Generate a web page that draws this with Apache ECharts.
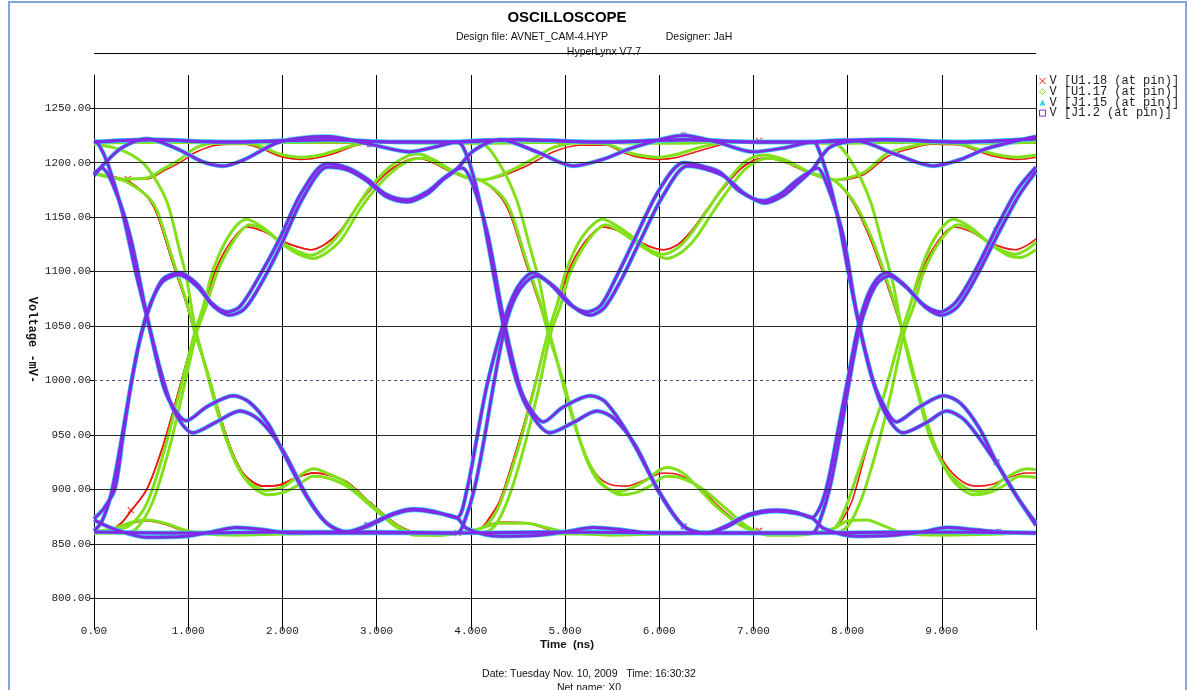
<!DOCTYPE html>
<html>
<head>
<meta charset="utf-8">
<title>Oscilloscope</title>
<script src="https://cdn.jsdelivr.net/npm/echarts@6.0.0/dist/echarts.min.js"></script>
<style>
  html, body { margin: 0; padding: 0; background: #fff; }
  #chart { width: 1189px; height: 690px; }
</style>
</head>
<body>
<div id="chart"></div>
<script>
// tick labels
const xTickLabels = ['0.00', '1.000', '2.000', '3.000', '4.000', '5.000', '6.000', '7.000', '8.000', '9.000', ''];
const yTickValues = [800, 850, 900, 950, 1000, 1050, 1100, 1150, 1200, 1250];
const yTickLabels = ['800.00', '850.00', '900.00', '950.00', '1000.00', '1050.00', '1100.00', '1150.00', '1200.00', '1250.00'];

// ---- V [U1.17 (at pin)]  (green), pieces per bit window 0-4.1, 4.1-7.85, 7.85-10 ns
const u17RiseS1 = [[0,861],[0.2,862],[0.38,867],[0.56,887],[0.74,934],[0.91,990],[1.07,1044],[1.16,1068],[1.27,1103],[1.44,1134],[1.62,1148],[1.8,1140],[1.97,1128],[2.15,1119],[2.3,1115],[2.45,1121],[2.6,1134],[2.78,1158],[2.93,1177],[3.14,1196],[3.35,1207],[3.45,1208],[3.6,1203],[3.78,1194],[3.95,1187],[4.1,1184]];
const u17RiseL1 = [[0,860],[0.3,860],[0.45,864],[0.62,888],[0.8,938],[0.95,992],[1.09,1044],[1.19,1068],[1.31,1100],[1.48,1128],[1.65,1143],[1.83,1137],[2.0,1125],[2.17,1116],[2.33,1112],[2.48,1118],[2.63,1130],[2.8,1154],[2.96,1173],[3.17,1192],[3.38,1203],[3.5,1204],[3.65,1199],[3.82,1191],[3.97,1186],[4.1,1184]];
const u17FallS1 = [[0,1190],[0.3,1184],[0.45,1177],[0.58,1168],[0.67,1156],[0.84,1110],[0.98,1073],[1.07,1044],[1.16,1020],[1.23,1000],[1.34,965],[1.48,930],[1.62,909],[1.83,899],[2.0,902],[2.12,909],[2.33,919],[2.5,914],[2.68,906],[2.93,887],[3.18,869],[3.35,861],[3.6,858],[3.85,860],[4.1,864]];
const u17FallL1 = [[0,1217],[0.2,1214],[0.4,1207],[0.56,1196],[0.77,1165],[0.91,1119],[0.98,1095],[1.07,1050],[1.16,1020],[1.25,990],[1.36,957],[1.5,925],[1.65,905],[1.85,895],[2.0,897],[2.15,903],[2.33,912],[2.5,910],[2.7,902],[2.95,884],[3.2,866],[3.4,858],[3.7,858],[4.1,864]];
const u17HighDip1 = [[0,1190],[0.3,1185],[0.56,1186],[0.75,1195],[0.91,1203],[1.09,1214],[1.3,1218],[1.6,1218],[1.8,1214],[1.97,1208],[2.2,1205],[2.4,1207],[2.6,1212],[2.79,1217],[3.1,1219],[3.5,1218],[4.1,1218]];
const u17LongHigh1 = [[0,1218],[0.7,1219],[1.5,1218],[2.5,1219],[3.4,1219],[4.1,1218]];
const u17LowBump1 = [[0,861],[0.2,864],[0.4,870],[0.56,872],[0.75,869],[0.95,863],[1.1,860],[1.5,858],[2.0,859],[3.0,860],[3.6,860],[4.1,860]];
const u17LongLow1 = [[0,860],[1.0,861],[2.0,860],[3.0,861],[4.1,860]];

const u17RiseS2 = [[4.1,864],[4.2,870],[4.31,887],[4.49,934],[4.66,988],[4.82,1044],[4.91,1068],[5.02,1103],[5.2,1134],[5.4,1148],[5.55,1142],[5.73,1131],[5.9,1120],[6.04,1116],[6.2,1122],[6.33,1134],[6.5,1155],[6.65,1174],[6.86,1197],[7.0,1205],[7.12,1207],[7.35,1202],[7.6,1191],[7.85,1184]];
const u17RiseL2 = [[4.1,860],[4.25,866],[4.4,892],[4.57,940],[4.72,992],[4.85,1044],[4.95,1068],[5.06,1100],[5.24,1128],[5.43,1143],[5.6,1136],[5.78,1125],[5.95,1116],[6.08,1112],[6.24,1118],[6.38,1130],[6.55,1152],[6.7,1171],[6.9,1193],[7.05,1202],[7.17,1204],[7.4,1199],[7.65,1189],[7.85,1184]];
const u17FallS2 = [[4.1,1184],[4.3,1172],[4.42,1156],[4.59,1110],[4.73,1073],[4.82,1044],[4.98,1000],[5.09,965],[5.23,927],[5.37,906],[5.55,898],[5.7,901],[5.85,908],[6.08,920],[6.25,915],[6.43,900],[6.61,884],[6.86,867],[7.0,862],[7.2,859],[7.5,859],[7.85,864]];
const u17FallL2 = [[4.1,1218],[4.31,1198],[4.49,1165],[4.62,1125],[4.73,1090],[4.82,1050],[4.91,1020],[5.0,990],[5.11,957],[5.25,925],[5.4,905],[5.6,895],[5.75,897],[5.9,903],[6.08,912],[6.25,910],[6.45,901],[6.7,883],[6.95,865],[7.15,858],[7.45,858],[7.85,864]];
const u17HighDip2 = [[4.1,1184],[4.3,1188],[4.59,1200],[4.88,1214],[5.15,1218],[5.44,1217],[5.6,1212],[5.73,1208],[6.0,1205],[6.2,1208],[6.43,1214],[6.78,1220],[7.3,1219],[7.85,1218]];
const u17LongHigh2 = [[4.1,1218],[5.0,1219],[6.0,1218],[7.0,1219],[7.85,1218]];
const u17LowBump2 = [[4.1,864],[4.3,869],[4.6,869],[4.8,865],[5.0,861],[5.5,858],[6.0,859],[7.0,860],[7.85,860]];
const u17LongLow2 = [[4.1,860],[5.2,859],[6.3,860],[7.85,860]];

const u17RiseS3 = [[7.85,864],[7.92,872],[8.0,888],[8.18,934],[8.38,985],[8.57,1044],[8.66,1068],[8.77,1100],[8.92,1130],[9.12,1148],[9.3,1141],[9.48,1128],[9.65,1119],[9.78,1116],[9.9,1120],[10,1127]];
const u17RiseL3 = [[7.85,860],[8.0,866],[8.15,892],[8.32,940],[8.47,992],[8.6,1044],[8.7,1068],[8.81,1100],[8.98,1128],[9.17,1143],[9.35,1136],[9.53,1124],[9.7,1115],[9.83,1113],[10,1120]];
const u17FallS3 = [[7.85,1184],[8.06,1165],[8.24,1134],[8.41,1094],[8.57,1050],[8.63,1026],[8.77,980],[8.87,949],[9.05,918],[9.26,901],[9.4,898],[9.55,902],[9.65,909],[9.9,919],[10,918]];
const u17FallL3 = [[7.85,1218],[8.06,1198],[8.24,1165],[8.37,1125],[8.48,1090],[8.57,1050],[8.66,1020],[8.75,990],[8.86,957],[9.0,925],[9.15,905],[9.35,895],[9.5,897],[9.65,903],[9.83,912],[10,911]];
const u17HighDip3 = [[7.85,1184],[8.17,1191],[8.41,1208],[8.63,1214],[8.9,1218],[9.2,1217],[9.4,1212],[9.55,1208],[9.8,1205],[10,1207]];
const u17LongHigh3 = [[7.85,1218],[8.8,1219],[9.6,1218],[10,1219]];
const u17LowBump3 = [[7.85,864],[8.0,871],[8.2,872],[8.4,866],[8.59,860],[9.0,858],[9.6,859],[10,860]];
const u17LongLow3 = [[7.85,860],[9.0,859],[10,860]];

// ---- V [U1.18 (at pin)]  (red)
const u18RiseS1 = [[0,861],[0.2,864],[0.3,870],[0.39,880],[0.56,900],[0.74,942],[0.91,994],[1.07,1044],[1.17,1070],[1.3,1103],[1.46,1128],[1.62,1141],[1.8,1137],[1.97,1129],[2.15,1123],[2.3,1120],[2.45,1125],[2.6,1136],[2.78,1158],[2.93,1175],[3.14,1193],[3.35,1203],[3.45,1204],[3.6,1200],[3.78,1192],[3.95,1186],[4.1,1184]];
const u18FallS1 = [[0,1190],[0.3,1185],[0.45,1178],[0.58,1167],[0.67,1153],[0.84,1107],[0.98,1071],[1.07,1044],[1.15,1022],[1.22,1003],[1.33,970],[1.46,936],[1.6,913],[1.8,903],[1.97,904],[2.1,909],[2.33,915],[2.5,913],[2.68,907],[2.93,888],[3.18,870],[3.35,862],[3.6,859],[3.85,860],[4.1,864]];
const u18HighDip1 = [[0,1190],[0.3,1185],[0.56,1185],[0.75,1193],[0.91,1200],[1.09,1210],[1.3,1216],[1.6,1217],[1.8,1212],[1.97,1206],[2.2,1203],[2.4,1205],[2.6,1210],[2.79,1216],[3.1,1218],[3.5,1218],[4.1,1218]];
const u18LowBump1 = [[0,861],[0.2,864],[0.4,869],[0.56,871],[0.75,868],[0.95,862],[1.1,860],[1.5,859],[2.0,860],[3.0,861],[3.85,861],[4.1,860]];
const u18LongHigh1 = [[0,1218],[1.2,1219],[2.5,1218],[4.1,1218]];
const u18LongLow1 = [[0,860],[2.0,861],[4.1,860]];

const u18RiseS2 = [[4.1,864],[4.2,874],[4.31,890],[4.49,938],[4.66,990],[4.82,1044],[4.92,1070],[5.05,1103],[5.22,1128],[5.4,1141],[5.55,1138],[5.73,1130],[5.9,1123],[6.04,1120],[6.2,1125],[6.33,1136],[6.5,1156],[6.65,1173],[6.86,1194],[7.0,1202],[7.12,1204],[7.35,1200],[7.6,1190],[7.85,1184]];
const u18FallS2 = [[4.1,1184],[4.3,1170],[4.42,1152],[4.59,1106],[4.73,1070],[4.82,1044],[4.96,1004],[5.07,970],[5.2,935],[5.35,912],[5.5,904],[5.65,903],[5.8,907],[6.05,915],[6.22,913],[6.43,902],[6.61,886],[6.86,868],[7.0,863],[7.2,860],[7.5,860],[7.85,864]];
const u18HighDip2 = [[4.1,1184],[4.3,1187],[4.59,1197],[4.88,1210],[5.15,1216],[5.44,1216],[5.6,1210],[5.73,1206],[6.0,1203],[6.2,1205],[6.43,1211],[6.78,1218],[7.3,1218],[7.85,1218]];
const u18LowBump2 = [[4.1,864],[4.3,870],[4.6,869],[4.8,864],[5.0,861],[5.5,859],[6.0,860],[7.0,861],[7.85,861]];
const u18LongHigh2 = [[4.1,1218],[5.5,1219],[7.06,1220],[7.85,1218]];
const u18LongLow2 = [[4.1,860],[6.0,861],[7.85,861]];

const u18RiseS3 = [[7.85,864],[7.95,873],[8.05,890],[8.2,936],[8.4,990],[8.57,1044],[8.67,1070],[8.8,1103],[8.96,1128],[9.12,1141],[9.3,1137],[9.48,1128],[9.65,1122],[9.78,1120],[9.9,1124],[10,1130]];
const u18FallS3 = [[7.85,1184],[8.06,1163],[8.24,1130],[8.41,1090],[8.57,1048],[8.63,1028],[8.76,985],[8.86,955],[9.03,924],[9.22,907],[9.38,903],[9.55,905],[9.68,910],[9.9,915],[10,915]];
const u18HighDip3 = [[7.85,1184],[8.17,1189],[8.41,1205],[8.63,1212],[8.9,1217],[9.2,1216],[9.4,1210],[9.55,1206],[9.8,1203],[10,1205]];
const u18LongHigh3 = [[7.85,1218],[9.0,1219],[10,1218]];
const u18LongLow3 = [[7.85,861],[9.0,860],[10,861]];

// ---- V [J1.2 (at pin)] (purple) / V [J1.15 (at pin)] (cyan) lie on top of each other
// bit windows 0-3.85, 3.85-7.62, 7.62-10 ns
const jRiseS1 = [[0,873],[0.1,882],[0.22,900],[0.31,950],[0.4,1000],[0.5,1042],[0.61,1072],[0.73,1093],[0.91,1099],[1.1,1088],[1.25,1071],[1.41,1063],[1.55,1068],[1.75,1095],[1.97,1130],[2.2,1172],[2.47,1199],[2.7,1195],[2.9,1185],[3.1,1171],[3.33,1166],[3.55,1174],[3.7,1185],[3.85,1194]];
const jRiseL1 = [[0,862],[0.08,870],[0.18,895],[0.28,940],[0.38,990],[0.48,1035],[0.58,1066],[0.72,1090],[0.9,1097],[1.1,1086],[1.27,1068],[1.44,1060],[1.6,1066],[1.8,1093],[2.0,1127],[2.22,1168],[2.48,1196],[2.7,1193],[2.9,1183],[3.1,1169],[3.33,1164],[3.55,1172],[3.7,1184],[3.85,1194]];
const jFallU1 = [[0,1190],[0.08,1195],[0.2,1180],[0.38,1134],[0.56,1060],[0.72,1000],[0.81,980],[0.98,963],[1.2,976],[1.48,986],[1.65,980],[1.85,960],[1.99,937],[2.26,893],[2.47,869],[2.68,861],[2.9,867],[3.18,878],[3.4,882],[3.6,880],[3.85,874]];
const jFallL1 = [[0,1220],[0.05,1217],[0.15,1198],[0.3,1155],[0.45,1097],[0.58,1052],[0.72,1005],[0.85,972],[1.05,952],[1.3,962],[1.55,972],[1.75,964],[1.99,938],[2.26,894],[2.47,869],[2.68,861],[2.9,866],[3.18,877],[3.4,881],[3.6,879],[3.85,874]];
const jHighDip1 = [[0,1188],[0.12,1200],[0.3,1214],[0.56,1222],[0.9,1212],[1.15,1201],[1.37,1197],[1.6,1203],[1.97,1219],[2.47,1224],[2.93,1217],[3.35,1210],[3.6,1214],[3.85,1219]];
const jLongHigh1 = [[0,1219],[0.6,1221],[1.4,1219],[2.5,1221],[3.2,1219],[3.85,1219]];
const jLowBump1 = [[0,872],[0.2,864],[0.56,856],[0.98,857],[1.25,861],[1.51,865],[1.8,863],[2.07,860],[3.0,860],[3.85,860]];
const jLongLow1 = [[0,861],[1.0,860],[2.0,861],[3.0,861],[3.85,860]];

const jRiseS2 = [[3.85,874],[3.96,900],[4.06,945],[4.17,995],[4.35,1054],[4.45,1078],[4.55,1092],[4.66,1099],[4.85,1088],[5.05,1070],[5.23,1063],[5.38,1069],[5.55,1096],[5.73,1128],[6.0,1175],[6.26,1200],[6.45,1197],[6.65,1191],[6.85,1174],[7.1,1165],[7.3,1172],[7.45,1183],[7.62,1193]];
const jRiseL2 = [[3.85,860],[3.95,875],[4.05,905],[4.15,950],[4.25,1000],[4.36,1048],[4.47,1076],[4.58,1090],[4.7,1096],[4.9,1085],[5.1,1067],[5.27,1060],[5.42,1067],[5.6,1093],[5.78,1125],[6.05,1171],[6.3,1197],[6.5,1194],[6.7,1187],[6.9,1172],[7.12,1163],[7.32,1170],[7.47,1181],[7.62,1193]];
const jFallU2 = [[3.85,1194],[3.91,1195],[4.02,1180],[4.18,1134],[4.34,1060],[4.5,1000],[4.59,980],[4.77,962],[4.97,975],[5.27,986],[5.42,981],[5.62,958],[5.76,937],[6.0,898],[6.26,866],[6.5,860],[6.7,866],[6.95,877],[7.25,881],[7.45,879],[7.62,874]];
const jFallL2 = [[3.85,1219],[3.92,1214],[4.02,1190],[4.13,1150],[4.31,1066],[4.45,1010],[4.6,975],[4.84,952],[5.1,962],[5.34,972],[5.52,965],[5.75,940],[6.0,897],[6.26,866],[6.5,860],[6.7,865],[6.95,876],[7.25,880],[7.45,878],[7.62,874]];
const jHighDip2 = [[3.85,1194],[4.03,1211],[4.31,1221],[4.7,1210],[5.09,1197],[5.4,1203],[5.73,1214],[6.26,1225],[6.61,1219],[7.0,1210],[7.35,1214],[7.62,1219]];
const jLongHigh2 = [[3.85,1219],[4.5,1221],[5.4,1219],[6.3,1221],[7.0,1219],[7.62,1219]];
const jLowBump2 = [[3.85,874],[3.96,864],[4.31,857],[4.73,858],[5.0,861],[5.3,865],[5.6,863],[5.9,860],[6.8,860],[7.62,860]];
const jLongLow2 = [[3.85,860],[5.0,861],[6.2,860],[7.62,860]];

const jRiseS3 = [[7.62,874],[7.72,886],[7.8,910],[7.9,955],[8.0,1000],[8.1,1045],[8.2,1075],[8.3,1092],[8.41,1099],[8.6,1088],[8.8,1070],[8.98,1063],[9.15,1072],[9.35,1100],[9.58,1140],[9.8,1175],[10,1196]];
const jRiseL3 = [[7.62,860],[7.72,875],[7.82,905],[7.92,950],[8.02,1000],[8.12,1045],[8.22,1073],[8.32,1090],[8.44,1096],[8.63,1085],[8.83,1067],[9.0,1060],[9.17,1068],[9.37,1096],[9.6,1135],[9.82,1170],[10,1192]];
const jFallU3 = [[7.62,1193],[7.68,1195],[7.78,1180],[7.95,1134],[8.1,1060],[8.26,1003],[8.35,983],[8.52,962],[8.75,975],[9.02,986],[9.2,979],[9.4,956],[9.58,925],[9.8,893],[10,869]];
const jFallL3 = [[7.62,1219],[7.67,1217],[7.81,1181],[7.92,1140],[8.0,1103],[8.1,1060],[8.25,1005],[8.4,970],[8.59,952],[8.85,962],[9.05,972],[9.25,963],[9.58,924],[9.8,893],[10,867]];
const jHighDip3 = [[7.62,1193],[7.81,1214],[8.1,1220],[8.5,1208],[8.91,1197],[9.2,1203],[9.48,1213],[10,1224]];
const jLongHigh3 = [[7.62,1219],[8.4,1221],[9.2,1219],[10,1222]];
const jLowBump3 = [[7.62,874],[7.75,864],[8.1,857],[8.5,858],[8.8,861],[9.05,865],[9.35,863],[9.6,861],[10,860]];
const jLongLow3 = [[7.62,860],[8.8,861],[10,860]];

// probe markers
const u18Marks = [[0.36,1185],[0.39,881],[3.86,860],[7.06,1220],[7.06,862]];
const j12Marks = [[2.93,1217],[2.9,867],[6.26,1225],[6.26,866],[9.6,1219],[9.58,1138],[9.58,925],[9.6,861]];

const RED = '#ee1a12', GREEN = '#82e01a', CYAN = '#35d4f0', PURPLE = '#7f2be6';
const N18 = 'V [U1.18 (at pin)]', N17 = 'V [U1.17 (at pin)]', N15 = 'V [J1.15 (at pin)]', N2 = 'V [J1.2 (at pin)]';

// join bit-window pieces into one sweep
function sweep(...parts) {
    let out = [];
    parts.forEach((p, i) => { out = out.concat(i ? p.slice(1) : p); });
    return out;
}

const u18Sweeps = [
    sweep(u18RiseS1, u18FallS2, u18RiseS3),
    sweep(u18FallS1, u18RiseS2, u18FallS3),
    sweep(u18HighDip1, u18LongHigh2, u18LongHigh3),
    sweep(u18RiseS1, u18HighDip2, u18LongHigh3),
    sweep(u18FallS1, u18LowBump2, u18LongLow3),
    sweep(u18LowBump1, u18LongLow2, u18LongLow3),
    sweep(u18LongHigh1, u18LongHigh2, u18LongHigh3),
    sweep(u18FallS1, u18RiseS2, u18HighDip3)
];
const u17Sweeps = [
    sweep(u17RiseS1, u17FallS2, u17RiseS3),
    sweep(u17FallS1, u17RiseS2, u17FallS3),
    sweep(u17FallL1, u17LowBump2, u17RiseL3),
    sweep(u17RiseL1, u17HighDip2, u17FallL3),
    sweep(u17HighDip1, u17LongHigh2, u17LongHigh3),
    sweep(u17LongHigh1, u17FallL2, u17LowBump3),
    sweep(u17LowBump1, u17RiseL2, u17HighDip3),
    sweep(u17LongLow1, u17LongLow2, u17LongLow3),
    sweep(u17LongHigh1, u17LongHigh2, u17LongHigh3)
];
const jSweeps = [
    sweep(jLongHigh1, jLongHigh2, jLongHigh3),
    sweep(jLongLow1, jLongLow2, jLongLow3),
    sweep(jHighDip1, jLongHigh2, jFallL3),
    sweep(jRiseS1, jFallU2, jRiseS3),
    sweep(jFallU1, jRiseS2, jFallU3),
    sweep(jFallL1, jLowBump2, jRiseL3),
    sweep(jRiseL1, jHighDip2, jLongHigh3),
    sweep(jLowBump1, jRiseL2, jHighDip3),
    sweep(jLongHigh1, jFallL2, jLowBump3)
];

function trace(name, data, color, width) {
    return {
        type: 'line', name: name, data: data, showSymbol: false,
        smooth: 0.3, silent: true,
        lineStyle: { color: color, width: width },
        itemStyle: { color: color }
    };
}

let series = [];
// horizontal grid lines
series.push({
    type: 'line', name: 'grid', data: [], silent: true,
    markLine: {
        silent: true, symbol: ['none', 'none'], label: { show: false },
        data: yTickValues.map(v => v === 1000
            ? { yAxis: v, lineStyle: { color: '#4f4f86', width: 1, type: [3, 3] } }
            : { yAxis: v, lineStyle: { color: '#2a2a2a', width: 1, type: 'solid' } })
    }
});
u18Sweeps.forEach(d => series.push(trace(N18, d, RED, 1.6)));
u17Sweeps.forEach(d => series.push(trace(N17, d, GREEN, 3)));
jSweeps.forEach(d => series.push(trace(N15, d, CYAN, 4.4)));
jSweeps.forEach(d => series.push(trace(N2, d, PURPLE, 3)));
series.push({
    type: 'scatter', name: N18, data: u18Marks, silent: true,
    symbol: 'path://M0,0L10,10M10,0L0,10', symbolSize: 6,
    itemStyle: { color: 'rgba(0,0,0,0)', borderColor: RED, borderWidth: 1.2 }
});
series.push({
    type: 'scatter', name: N2, data: j12Marks, silent: true,
    symbol: 'rect', symbolSize: 6, itemStyle: { color: PURPLE }
});

const chart = echarts.init(document.getElementById('chart'));
chart.setOption({
    animation: false,
    backgroundColor: '#fff',
    grid: { left: 94, right: 153, top: 75, bottom: 65 },
    legend: {
        orient: 'vertical', left: 1039, top: 75, padding: 0,
        itemWidth: 6, itemHeight: 6, itemGap: -1.3, selectedMode: false,
        textStyle: { fontFamily: 'Liberation Mono', fontSize: 12, lineHeight: 11, color: '#222', padding: [0, 0, 0, -1] },
        data: [
            { name: N18, icon: 'path://M0,0L10,10M10,0L0,10', itemStyle: { color: 'rgba(0,0,0,0)', borderColor: RED, borderWidth: 1 } },
            { name: N17, icon: 'diamond', itemStyle: { color: 'rgba(0,0,0,0)', borderColor: GREEN, borderWidth: 1 } },
            { name: N15, icon: 'triangle', itemStyle: { color: CYAN, borderWidth: 0 } },
            { name: N2, icon: 'rect', itemStyle: { color: 'rgba(0,0,0,0)', borderColor: PURPLE, borderWidth: 1 } }
        ]
    },
    xAxis: {
        type: 'value', min: 0, max: 10, interval: 1,
        axisLine: { show: false },
        axisTick: { show: true, length: 5, lineStyle: { color: '#000' } },
        axisLabel: {
            formatter: v => xTickLabels[Math.round(v)] || '',
            fontFamily: 'Liberation Mono', fontSize: 11, color: '#222', margin: 1
        },
        splitLine: { show: true, lineStyle: { color: '#000', width: 1 } }
    },
    yAxis: {
        type: 'value', min: 775.5, max: 1280.5,
        axisLine: { show: true, lineStyle: { color: '#000', width: 1 } },
        axisTick: { show: true, length: 4, customValues: yTickValues, lineStyle: { color: '#000' } },
        axisLabel: {
            customValues: yTickValues,
            formatter: v => { const i = yTickValues.indexOf(v); return i < 0 ? '' : yTickLabels[i]; },
            fontFamily: 'Liberation Mono', fontSize: 11, color: '#222', margin: 3
        },
        splitLine: { show: false }
    },
    graphic: [
        { type: 'rect', silent: true, shape: { x: 9, y: 2, width: 1177, height: 720 },
          style: { fill: 'none', stroke: '#7ea7dd', lineWidth: 2 } },
        { type: 'text', x: 567, y: 18, style: { text: 'OSCILLOSCOPE', font: 'bold 15px "Liberation Sans", Arial', fill: '#000', textAlign: 'center', textVerticalAlign: 'middle' } },
        { type: 'text', x: 532, y: 37, style: { text: 'Design file: AVNET_CAM-4.HYP', font: '10.5px "Liberation Sans", Arial', fill: '#111', textAlign: 'center', textVerticalAlign: 'middle' } },
        { type: 'text', x: 699, y: 37, style: { text: 'Designer: JaH', font: '10.5px "Liberation Sans", Arial', fill: '#111', textAlign: 'center', textVerticalAlign: 'middle' } },
        { type: 'line', silent: true, shape: { x1: 94, y1: 53.5, x2: 1036, y2: 53.5 }, style: { stroke: '#000', lineWidth: 1 } },
        { type: 'text', x: 604, y: 52, style: { text: 'HyperLynx V7.7', font: '10.5px "Liberation Sans", Arial', fill: '#111', textAlign: 'center', textVerticalAlign: 'middle' } },
        { type: 'text', x: 32, y: 340, rotation: -Math.PI / 2, style: { text: 'Voltage -mV-', font: 'bold 12px "Liberation Mono", monospace', fill: '#111', textAlign: 'center', textVerticalAlign: 'middle' } },
        { type: 'text', x: 567, y: 645, style: { text: 'Time  (ns)', font: 'bold 11.5px "Liberation Sans", Arial', fill: '#111', textAlign: 'center', textVerticalAlign: 'middle' } },
        { type: 'text', x: 589, y: 674, style: { text: 'Date: Tuesday Nov. 10, 2009   Time: 16:30:32', font: '10.5px "Liberation Sans", Arial', fill: '#111', textAlign: 'center', textVerticalAlign: 'middle' } },
        { type: 'text', x: 589, y: 688, style: { text: 'Net name: X0', font: '10.5px "Liberation Sans", Arial', fill: '#111', textAlign: 'center', textVerticalAlign: 'middle' } }
    ],
    series: series
});
</script>
</body>
</html>
